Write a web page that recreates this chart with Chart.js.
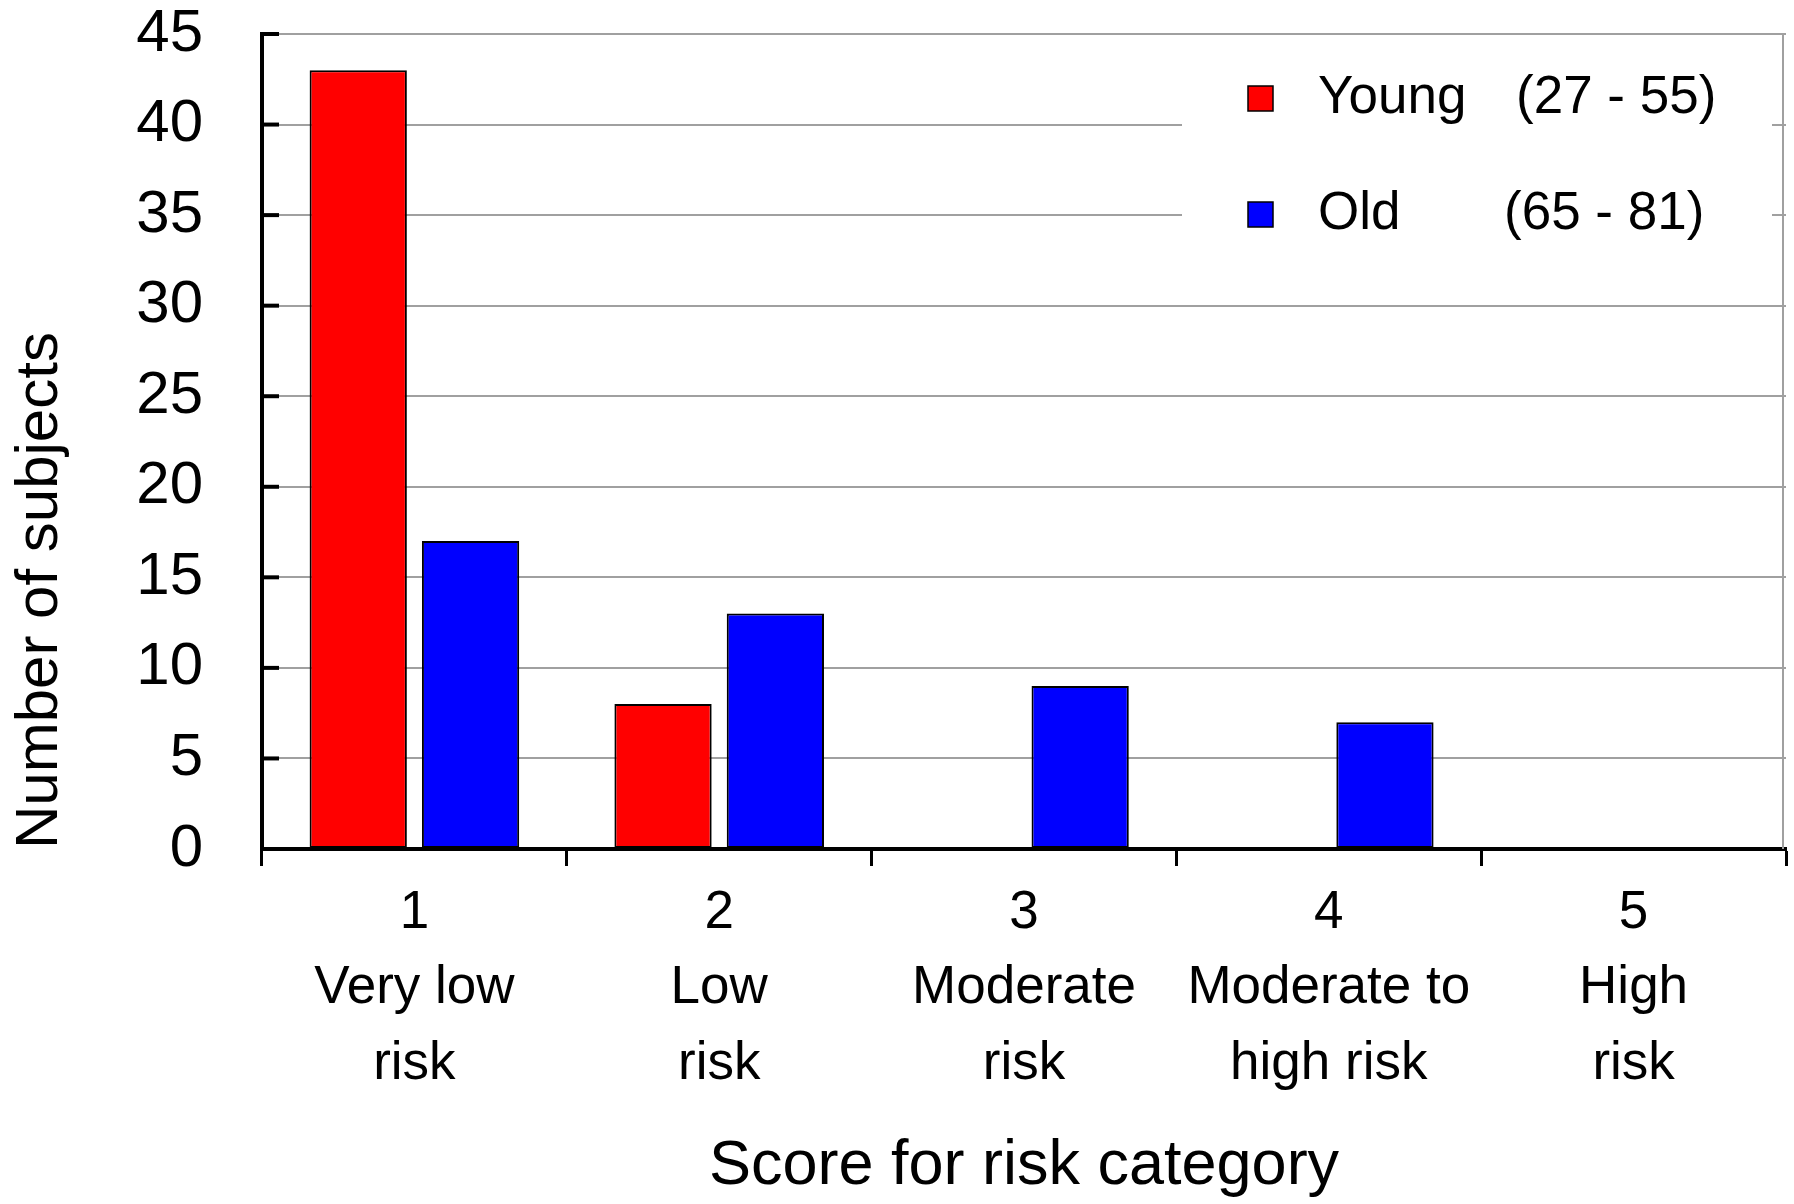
<!DOCTYPE html>
<html>
<head>
<meta charset="utf-8">
<script src="https://cdn.jsdelivr.net/npm/chart.js@4.4.1/dist/chart.umd.min.js"></script>
<style>
  body { margin: 0; background: #fff; }
</style>
</head>
<body>
<canvas id="riskChart" width="1794" height="1204"></canvas>
<script>
const scores = ['1', '2', '3', '4', '5'];
const riskNames = [
  ['Very low', 'risk'],
  ['Low', 'risk'],
  ['Moderate', 'risk'],
  ['Moderate to', 'high risk'],
  ['High', 'risk']
];
const youngCounts = [43, 8, 0, 0, 0];
const oldCounts = [17, 13, 9, 7, 0];
const groupNames = ['Young', 'Old'];
const ageRanges = ['(27 - 55)', '(65 - 81)'];

const FONT = "'Liberation Sans', Arial, sans-serif";
const GRID = '#a0a0a0';

// inward ticks on the y axis + grey right edge of the plot
const frame = {
  id: 'frame',
  afterDraw(chart) {
    const {ctx, chartArea, scales} = chart;
    const y = scales.y;
    ctx.save();
    ctx.strokeStyle = GRID;
    ctx.lineWidth = 2;
    ctx.beginPath();
    ctx.moveTo(chartArea.right - 3, chartArea.top);
    ctx.lineTo(chartArea.right - 3, chartArea.bottom);
    ctx.stroke();

    ctx.strokeStyle = '#000';
    ctx.lineWidth = 4;
    y.ticks.forEach(t => {
      const py = y.getPixelForValue(t.value);
      ctx.beginPath();
      ctx.moveTo(chartArea.left, py);
      ctx.lineTo(chartArea.left + 17, py);
      ctx.stroke();
    });
    ctx.restore();
  }
};

// legend box drawn over the grid lines, two columns (name, age range)
const boxLegend = {
  id: 'boxLegend',
  afterDraw(chart) {
    const {ctx, chartArea} = chart;
    const right = chartArea.right;
    const top = chartArea.top;
    ctx.save();
    ctx.fillStyle = '#fff';
    ctx.fillRect(right - 604, top + 24, 590, 206);

    const rows = [top + 64, top + 180];
    const rangeX = [right - 270, right - 282];
    ctx.font = '53px ' + FONT;
    ctx.textBaseline = 'middle';
    ctx.textAlign = 'left';
    chart.data.datasets.forEach((ds, i) => {
      const cy = rows[i];
      ctx.fillStyle = ds.backgroundColor;
      ctx.fillRect(right - 538, cy - 12, 25, 25);
      ctx.strokeStyle = '#000';
      ctx.lineWidth = 1.5;
      ctx.strokeRect(right - 538, cy - 12, 25, 25);
      ctx.fillStyle = '#000';
      ctx.fillText(groupNames[i], right - 468, cy);
      ctx.fillText(ageRanges[i], rangeX[i], cy);
    });
    ctx.restore();
  }
};

const labels = scores.map((s, i) => [s].concat(riskNames[i]));

const data = {
  labels: labels,
  datasets: [
    {
      label: groupNames[0],
      data: youngCounts,
      backgroundColor: '#ff0000',
      borderColor: '#000',
      borderWidth: 2,
      borderSkipped: false,
      categoryPercentage: 0.737,
      barPercentage: 0.866
    },
    {
      label: groupNames[1],
      data: oldCounts,
      backgroundColor: '#0000ff',
      borderColor: '#000',
      borderWidth: 2,
      borderSkipped: false,
      categoryPercentage: 0.737,
      barPercentage: 0.866
    }
  ]
};

const options = {
  responsive: false,
  animation: false,
  devicePixelRatio: 1,
  layout: { padding: { top: 34, right: 8, bottom: 0, left: 4 } },
  plugins: {
    legend: { display: false },
    tooltip: { enabled: false }
  },
  scales: {
    x: {
      afterFit(scale) { scale.height = 355; },
      grid: {
        drawOnChartArea: false,
        drawTicks: true,
        tickLength: 17,
        tickColor: '#000',
        tickWidth: 3
      },
      border: { display: true, color: '#000', width: 4, z: 1 },
      ticks: {
        color: '#000',
        font: { family: FONT, size: 53, lineHeight: 1.43 },
        padding: 9,
        autoSkip: false,
        maxRotation: 0
      },
      title: {
        display: true,
        text: 'Score for risk category',
        color: '#000',
        font: { family: FONT, size: 63, lineHeight: 1.2 },
        padding: 0
      }
    },
    y: {
      min: 0,
      max: 45,
      afterFit(scale) {
        scale.width = 258;
        scale.paddingTop = 0;
        scale.paddingBottom = 0;
      },
      grid: {
        color: GRID,
        lineWidth: 2,
        drawTicks: false
      },
      border: { display: true, color: '#000', width: 4 },
      ticks: {
        stepSize: 5,
        color: '#000',
        font: { family: FONT, size: 60 },
        padding: 59
      },
      title: {
        display: true,
        text: 'Number of subjects',
        align: 'start',
        color: '#000',
        font: { family: FONT, size: 60, lineHeight: 1.2 },
        padding: 0
      }
    }
  }
};

new Chart(document.getElementById('riskChart'), {
  type: 'bar',
  data: data,
  options: options,
  plugins: [frame, boxLegend]
});
</script>
</body>
</html>
